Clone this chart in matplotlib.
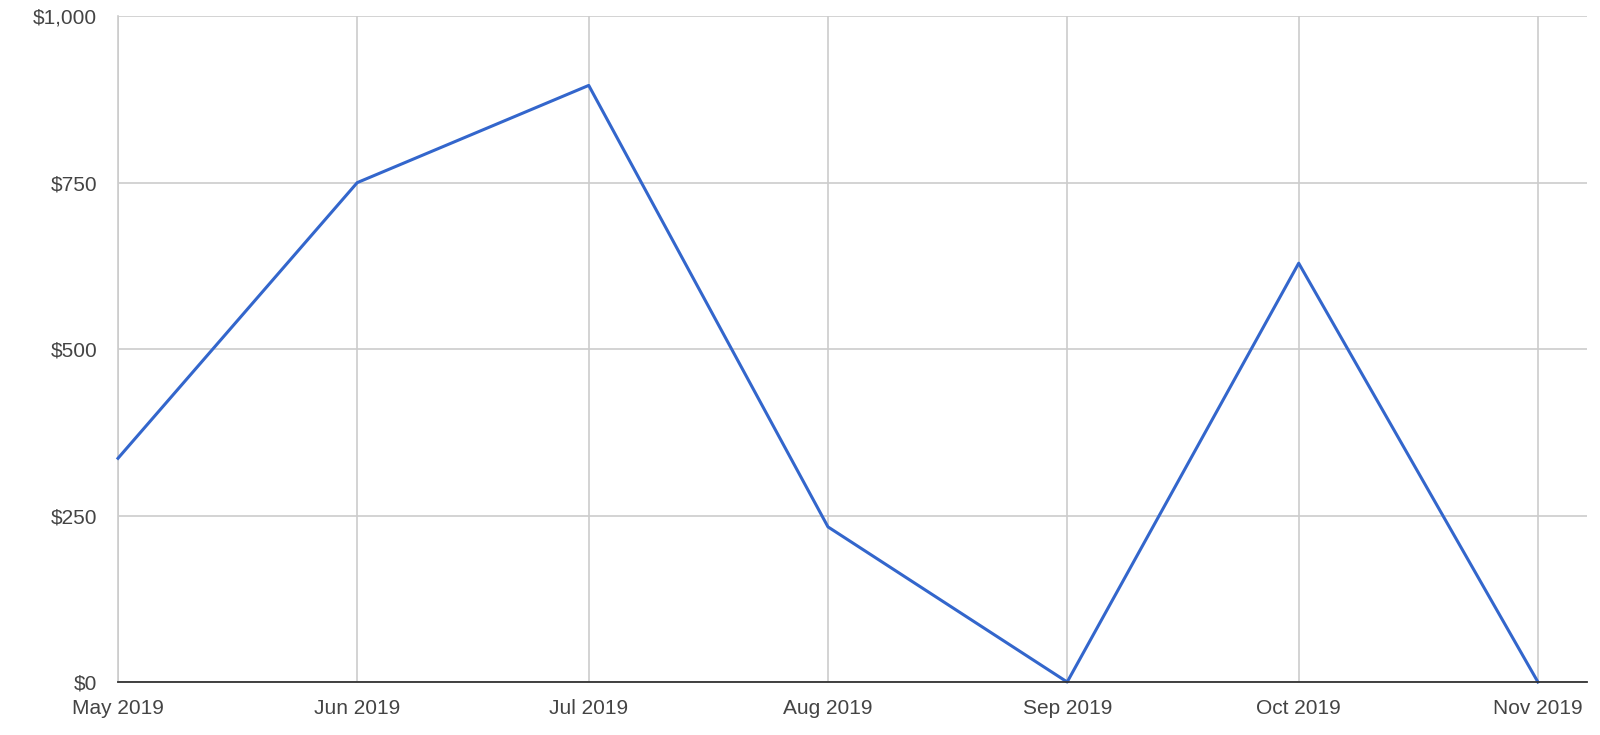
import matplotlib.pyplot as plt
import matplotlib.dates as mdates
from matplotlib.ticker import FuncFormatter
import pandas as pd

plt.rcParams['font.family'] = ['Liberation Sans', 'DejaVu Sans']

# Data
months = ["2019-05-01", "2019-06-01", "2019-07-01", "2019-08-01",
          "2019-09-01", "2019-10-01", "2019-11-01"]
values = [336, 750, 896, 233, 0, 629, 0]
y_ticks = [0, 250, 500, 750, 1000]

dates = pd.to_datetime(months)

fig = plt.figure(figsize=(16, 7.35), dpi=100)
ax = fig.add_axes([0.07375, 0.0721, 0.918, 0.9059])

ax.plot(dates, values, color="#3366cc", linewidth=2.2, zorder=3, clip_on=False)

ax.set_ylim(0, 1000)
ax.set_yticks(y_ticks)
ax.yaxis.set_major_formatter(FuncFormatter(lambda v, p: f"${v:,.0f}"))
ax.set_xlim(dates[0], pd.Timestamp("2019-11-07 08:00"))
ax.set_xticks(dates)
ax.xaxis.set_major_formatter(mdates.DateFormatter("%b %Y"))

ax.grid(True, color="#cccccc", linewidth=1.2, zorder=0)
for s in ["top", "right"]:
    ax.spines[s].set_visible(False)
ax.spines["left"].set_color("#cccccc")
ax.spines["left"].set_linewidth(1.2)
ax.spines["bottom"].set_color("#333333")
ax.spines["bottom"].set_linewidth(1.3)
ax.spines["bottom"].set_zorder(4)

ax.tick_params(axis="both", length=0, labelsize=15, labelcolor="#444444")
ax.tick_params(axis="y", pad=15)
ax.tick_params(axis="x", pad=12)

fig.savefig("out.png", dpi=100)
